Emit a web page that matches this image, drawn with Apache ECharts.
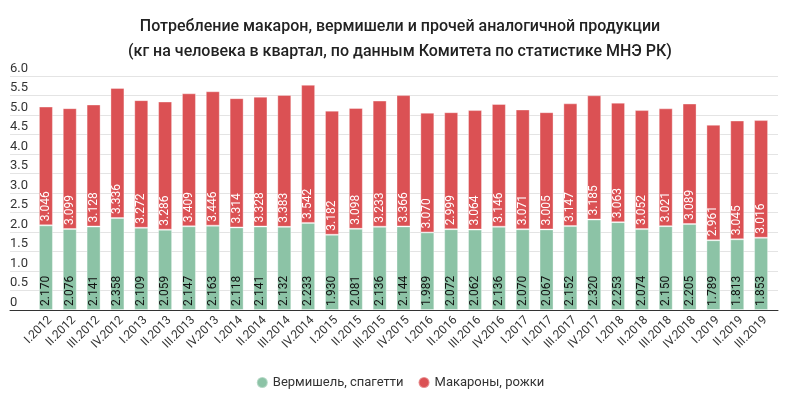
<!DOCTYPE html>
<html>
<head>
<meta charset="utf-8">
<script src="https://cdn.jsdelivr.net/npm/echarts@6/dist/echarts.min.js"></script>
<style>
html,body{margin:0;padding:0;background:#fff;}
#chart{width:800px;height:393px;}
</style>
</head>
<body>
<div id="chart"></div>
<script>
const titleText = 'Потребление макарон, вермишели и прочей аналогичной продукции\n(кг на человека в квартал, по данным Комитета по статистике МНЭ РК)';
const categories = ['I.2012','II.2012','III.2012','IV.2012','I.2013','II.2013','III.2013','IV.2013','I.2014','II.2014','III.2014','IV.2014','I.2015','II.2015','III.2015','IV.2015','I.2016','II.2016','III.2016','IV.2016','I.2017','II.2017','III.2017','IV.2017','I.2018','II.2018','III.2018','IV.2018','I.2019','II.2019','III.2019'];
const seriesNames = ['Вермишель, спагетти','Макароны, рожки'];
const vermishel = [2.170,2.076,2.141,2.358,2.109,2.059,2.147,2.163,2.118,2.141,2.132,2.233,1.930,2.081,2.136,2.144,1.989,2.072,2.062,2.136,2.070,2.067,2.152,2.320,2.253,2.074,2.150,2.205,1.789,1.813,1.853];
const makarony = [3.046,3.099,3.128,3.336,3.272,3.286,3.409,3.446,3.314,3.328,3.383,3.542,3.182,3.098,3.233,3.366,3.070,2.999,3.064,3.146,3.071,3.005,3.147,3.185,3.063,3.052,3.021,3.089,2.961,3.045,3.016];
const yMin = 0, yMax = 6, yStep = 0.5;

const FONT = 'Roboto, "Noto Sans", sans-serif';
const chart = echarts.init(document.getElementById('chart'), null, {renderer:'canvas'});
const fmt3 = p => p.value.toFixed(3);
chart.setOption({
  animation:false,
  textStyle:{fontFamily:FONT},
  title:{
    text:titleText, left:'center', top:9,
    textStyle:{fontFamily:FONT,fontSize:16,fontWeight:500,color:'#222',lineHeight:25}
  },
  legend:{
    data:seriesNames, top:371, left:'center', icon:'circle',
    itemWidth:11, itemHeight:11, itemGap:14,
    textStyle:{fontFamily:FONT,fontSize:13,color:'#333'}
  },
  grid:[
    {left:10,right:22,top:76,bottom:83},
    {left:34,right:27,top:76,bottom:83}
  ],
  xAxis:[
    {gridIndex:0,type:'value',min:0,max:1,axisLabel:{show:false},axisTick:{show:false},splitLine:{show:false},
     axisLine:{show:true,lineStyle:{color:'#333',width:1}}},
    {gridIndex:1,type:'category',data:categories,axisLine:{show:false},axisTick:{show:false},
     axisLabel:{rotate:45,fontSize:12,color:'#333',margin:4,interval:0,verticalAlign:'top',fontFamily:FONT}}
  ],
  yAxis:[
    {gridIndex:0,type:'value',min:yMin,max:yMax,interval:yStep,axisLine:{show:false},axisTick:{show:false},
     splitLine:{lineStyle:{color:'#e4e4e4',width:1}},
     axisLabel:{align:'left',verticalAlign:'bottom',margin:0,fontSize:13,color:'#333',padding:[0,0,1,0],fontFamily:FONT,
       formatter:v=> v===0?'0':v.toFixed(1)}},
    {gridIndex:1,type:'value',min:yMin,max:yMax,interval:yStep,show:false,splitLine:{show:false}}
  ],
  series:[
    {name:seriesNames[0],type:'bar',stack:'s',xAxisIndex:1,yAxisIndex:1,barWidth:14,data:vermishel,
     itemStyle:{color:'#8cc3a6',borderColor:'rgba(255,255,255,0.35)',borderWidth:1},
     label:{show:true,position:'insideBottom',rotate:90,align:'left',verticalAlign:'middle',distance:4,
       fontSize:12,color:'#111',fontFamily:FONT,formatter:fmt3}},
    {name:seriesNames[1],type:'bar',stack:'s',xAxisIndex:1,yAxisIndex:1,barWidth:14,data:makarony,
     itemStyle:{color:'#db5154',borderColor:'rgba(255,255,255,0.35)',borderWidth:1},
     label:{show:true,position:'insideBottom',rotate:90,align:'left',verticalAlign:'middle',distance:4,
       fontSize:12,color:'#fff',fontFamily:FONT,formatter:fmt3}}
  ]
});
</script>
</body>
</html>
